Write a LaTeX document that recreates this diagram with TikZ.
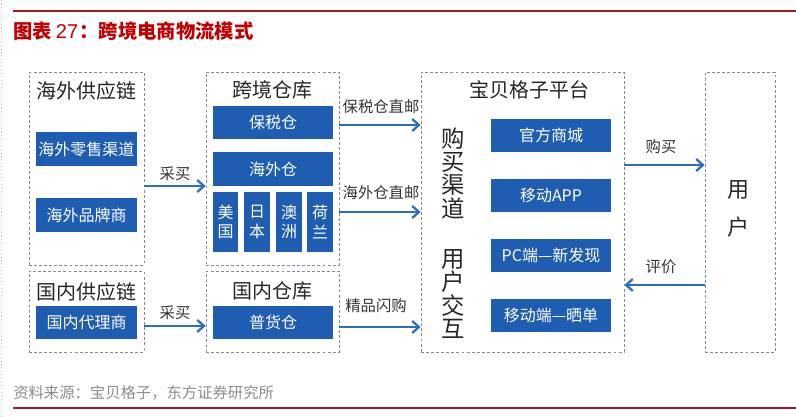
\documentclass[tikz,border=0pt]{standalone}
\usepackage{fontspec}
\setmainfont{Liberation Sans}
\newfontfamily\cjk{Noto Sans CJK SC}
\usetikzlibrary{fit,arrows.meta}
\definecolor{boxblue}{RGB}{31,93,178}
\definecolor{arrblue}{RGB}{46,108,190}
\definecolor{framegray}{RGB}{128,140,158}
\definecolor{titlered}{RGB}{192,0,0}
\definecolor{linered}{RGB}{170,20,40}
\definecolor{srcgray}{RGB}{140,140,140}
\tikzset{
  frame/.style={draw=framegray, dash pattern=on 2.2pt off 1.6pt, line width=0.6pt, inner sep=0pt},
  bbox/.style={fill=boxblue, text=white, inner sep=0pt, font=\cjk\fontsize{12}{15}\selectfont, align=center},
  sz/.style 2 args={minimum width={#1*0.75pt}, minimum height={#2*0.75pt}},
  head/.style={font=\cjk\fontsize{15}{18}\selectfont, text=black!85, inner sep=0pt},
  lbl/.style={font=\cjk\fontsize{11.5}{14}\selectfont, text=black!80, inner sep=0pt},
  vtext/.style={font=\cjk\fontsize{17.5}{17.5}\selectfont, align=center, inner sep=0pt, text=black!85},
  arr/.style={draw=arrblue, line width=1.7pt, -{Straight Barb[length=5pt,width=9pt,line width=1.7pt]}},
}
\begin{document}
\begin{tikzpicture}[x=0.75pt,y=-0.75pt]
\useasboundingbox (0,0) rectangle (796,417);
% page edge
\draw[black!25, dotted, line width=0.6pt] (1,0) -- (1,417);
% rules
\draw[linered, line width=0.9pt] (13,11) -- (796,11);
\draw[linered, line width=0.9pt] (13,408) -- (796,408);
\node[anchor=west, inner sep=0pt, text=titlered] (title) at (13,31)
  {\cjk\bfseries\fontsize{14.5}{16}\selectfont 图表\hspace{3pt}{\rmfamily\mdseries\fontsize{15}{16}\selectfont 27}\hspace{1pt}：跨境电商物流模式};
\node[anchor=west, inner sep=0pt, text=srcgray] (src) at (13,393)
  {\cjk\fontsize{11.5}{14}\selectfont 资料来源：宝贝格子，东方证券研究所};

% frames
\node[frame, fit={(29,72) (144,265)}] (hw) {};
\node[frame, fit={(29,271) (144,352)}] (gn) {};
\node[frame, fit={(206,72) (339,265)}] (kj) {};
\node[frame, fit={(206,271) (339,352)}] (gk) {};
\node[frame, fit={(421,72) (624,352)}] (bb) {};
\node[frame, fit={(705,72) (775,352)}] (yh) {};

% headers
\node[head] (hwh) at (86.5,91) {海外供应链};
\node[head] (gnh) at (86.5,292) {国内供应链};
\node[head] (kjh) at (272.5,90) {跨境仓库};
\node[head] (gkh) at (272.5,291) {国内仓库};
\node[head] (bbh) at (529,90) {宝贝格子平台};

% blue boxes left
\node[bbox, sz={101}{34}] (b1) at (86.5,149) {海外零售渠道};
\node[bbox, sz={101}{34}] (b2) at (86.5,215) {海外品牌商};
\node[bbox, sz={101}{33}] (b3) at (86.5,322.5) {国内代理商};
% middle
\node[bbox, sz={120}{33}] (c1) at (273,122.5) {保税仓};
\node[bbox, sz={120}{34}] (c2) at (273,169) {海外仓};
\node[bbox, sz={25}{60}] (c3) at (225.5,222) {美\\[-0.5pt]国};
\node[bbox, sz={26}{60}] (c4) at (257,222) {日\\[-0.5pt]本};
\node[bbox, sz={26}{60}] (c5) at (289,222) {澳\\[-0.5pt]洲};
\node[bbox, sz={26}{60}] (c6) at (320,222) {荷\\[-0.5pt]兰};
\node[bbox, sz={120}{33}] (c7) at (273,322.5) {普货仓};
% platform
\node[bbox, sz={120}{33}] (d1) at (551,135.5) {官方商城};
\node[bbox, sz={120}{33}] (d2) at (551,195.5) {移动APP};
\node[bbox, sz={120}{33}] (d3) at (551,255.5) {PC端—新发现};
\node[bbox, sz={120}{33}] (d4) at (551,315.5) {移动端—晒单};

% vertical texts
\node[vtext] (gm) at (453,173) {购\\买\\渠\\道};
\node[vtext] (hd) at (453,294) {用\\户\\交\\互};
\node[vtext, font=\cjk\fontsize{16.5}{28.5}\selectfont] (yht) at (738,209) {用\\户};

% arrows
\draw[arr] (hw.east |- 0,186) -- (kj.west |- 0,186);
\node[lbl] (l1) at (175,174) {采买};
\draw[arr] (gn.east |- 0,326) -- (gk.west |- 0,326);
\node[lbl] (l2) at (175,313) {采买};
\draw[arr] (kj.east |- 0,125) -- (bb.west |- 0,125);
\node[lbl] (l3) at (381,107) {保税仓直邮};
\draw[arr] (kj.east |- 0,212) -- (bb.west |- 0,212);
\node[lbl] (l4) at (381,193) {海外仓直邮};
\draw[arr] (gk.east |- 0,327) -- (bb.west |- 0,327);
\node[lbl] (l5) at (376,306) {精品闪购};
\draw[arr] (bb.east |- 0,165) -- (yh.west |- 0,165);
\node[lbl] (l6) at (661,147) {购买};
\draw[arr] (yh.west |- 0,285) -- (bb.east |- 0,285);
\node[lbl] (l7) at (661,267) {评价};
\end{tikzpicture}
\end{document}
